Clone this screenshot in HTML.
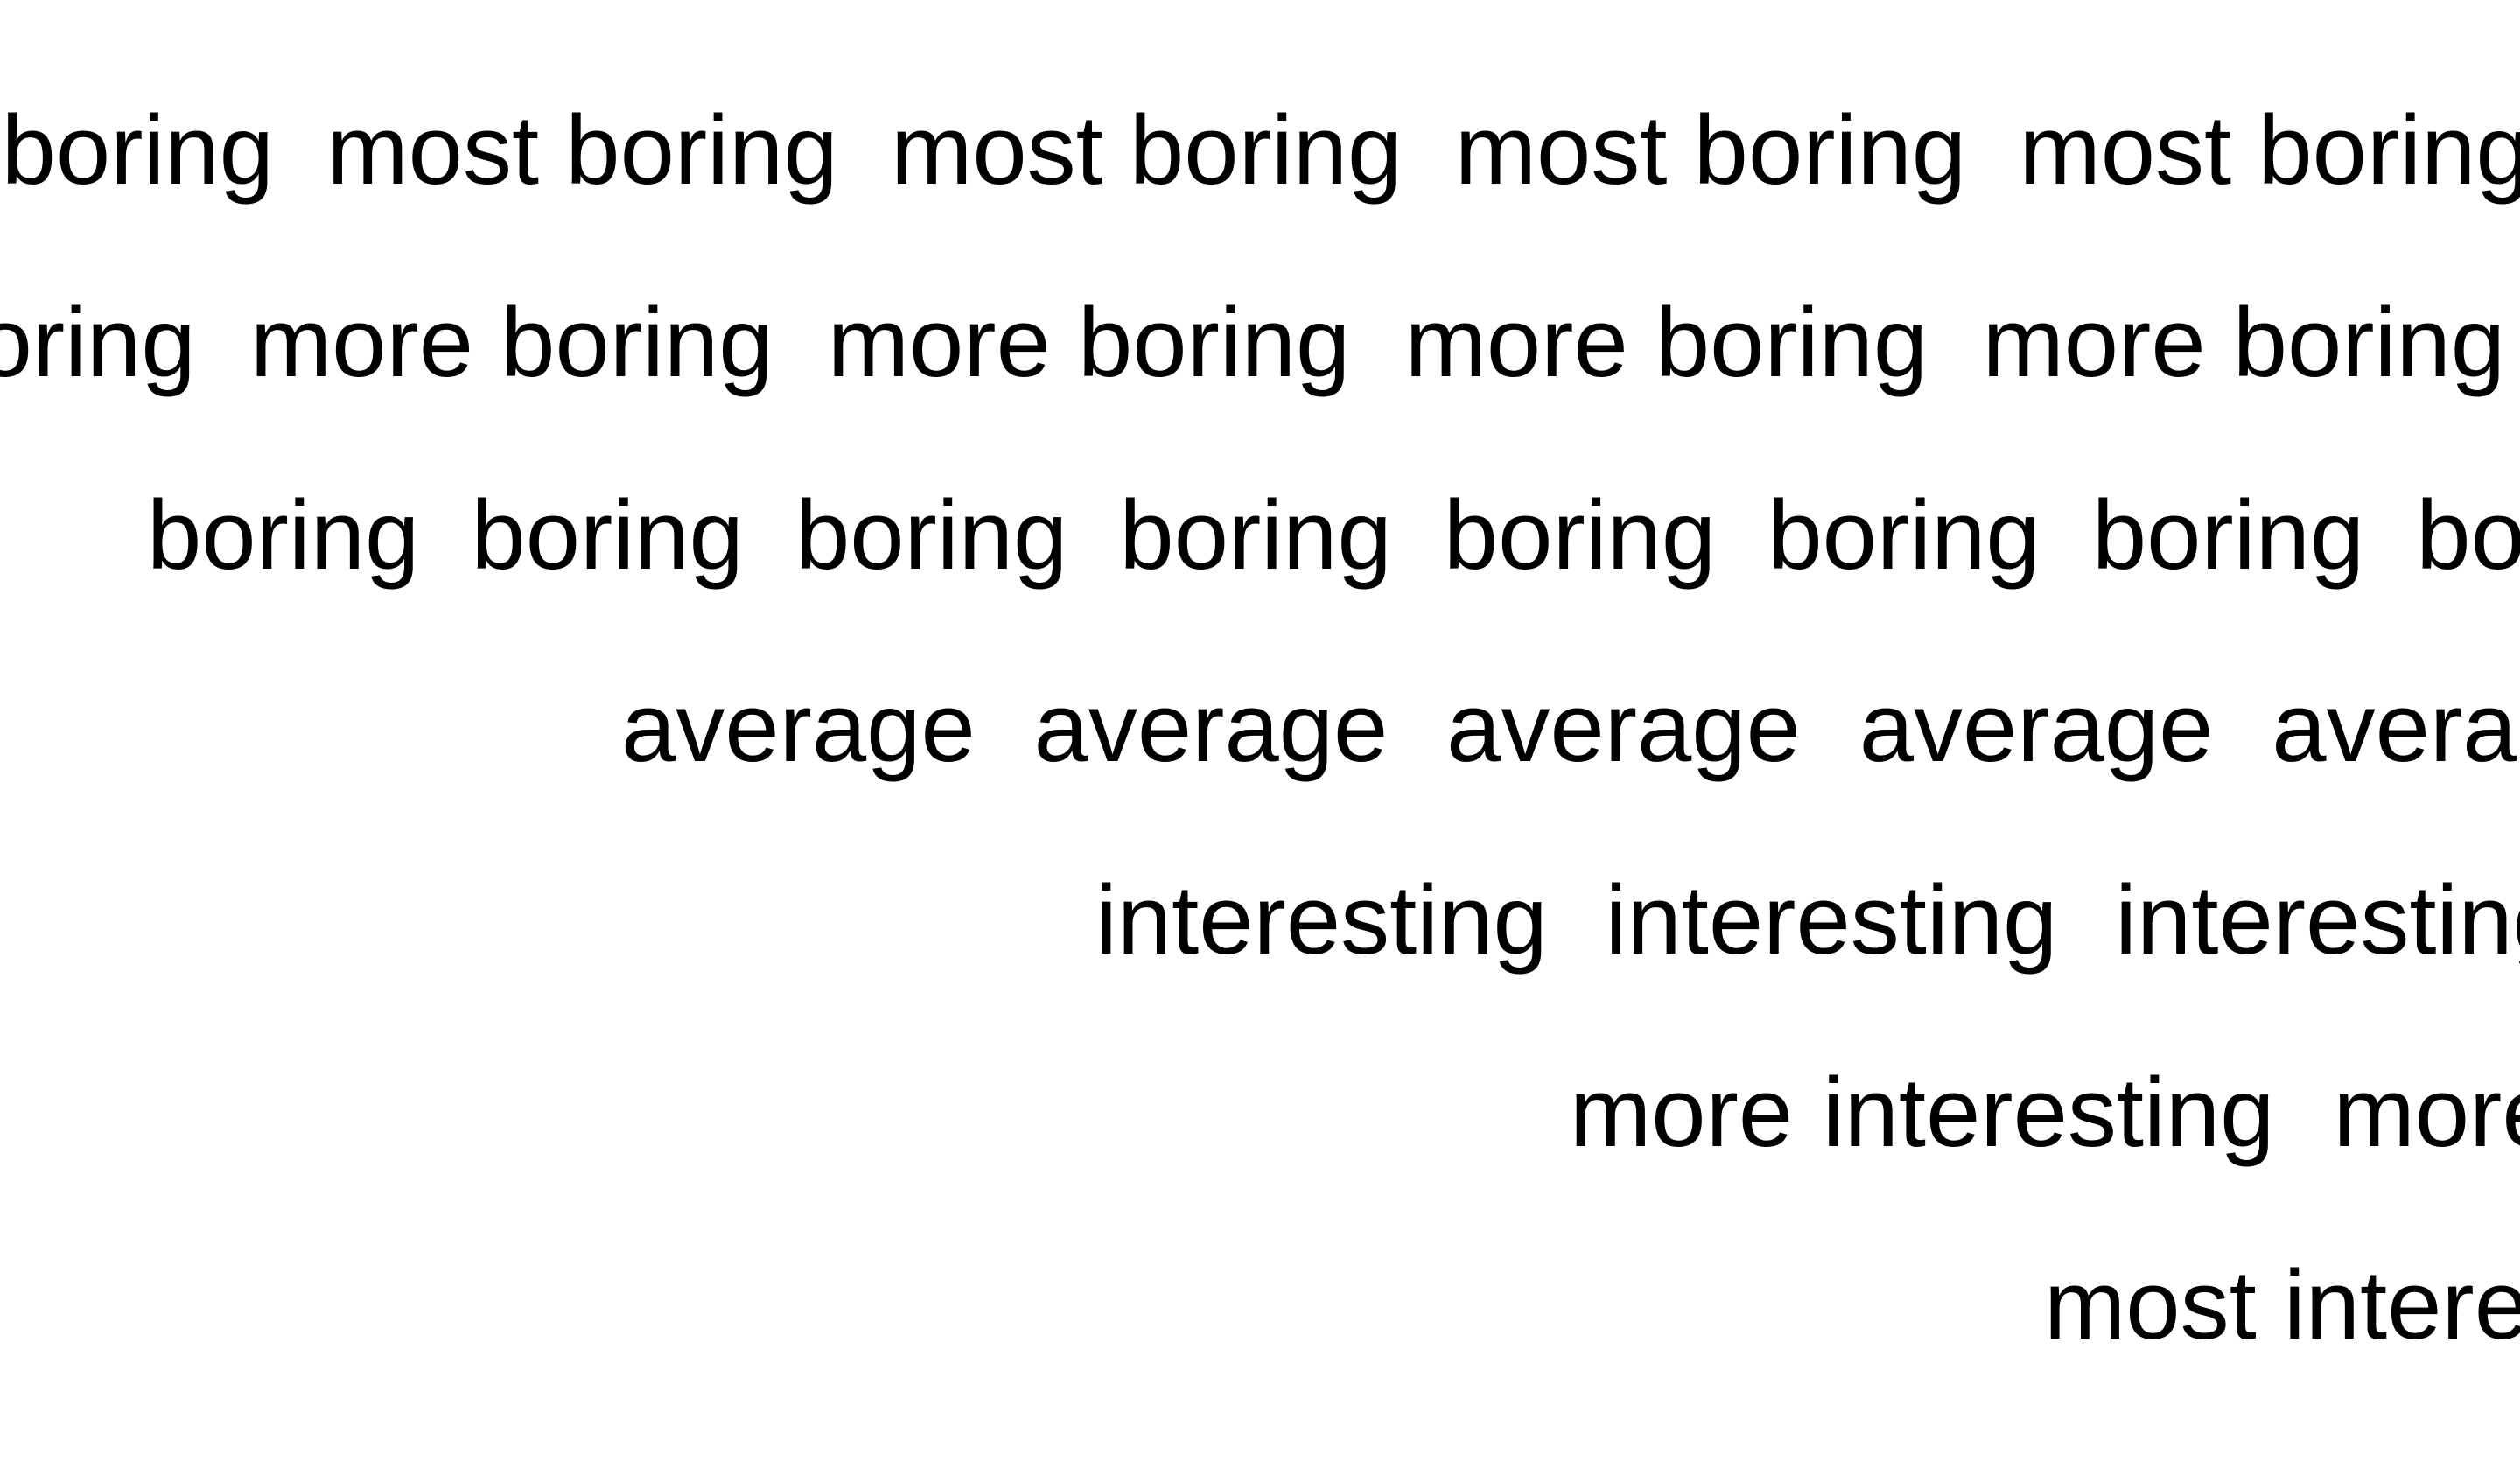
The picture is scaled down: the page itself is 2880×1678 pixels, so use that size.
<!DOCTYPE html>
<html><head><meta charset="utf-8"><style>
html,body{margin:0;padding:0;background:#fff;width:2880px;height:1678px;overflow:hidden}
svg{display:block}
text{font-family:"Liberation Sans",Arial,sans-serif;font-size:112px;fill:#000;white-space:pre}
</style></head><body>
<svg id="chart" width="2880" height="1678" viewBox="0 0 2880 1678" xmlns="http://www.w3.org/2000/svg" xml:space="preserve"></svg>
<script>
const labels = ["most boring","more boring","boring","average","interesting","more interesting","most interesting"];
const rowIndex = [0,1,2,3,4,5,6];
const svg = document.getElementById('chart');
const NS = 'http://www.w3.org/2000/svg';
const x0 = -916, xStep = 542, y0 = 210, yStep = 220;
const spacingFix = [-0.9, 0, -1.55, 2.3, 1.8, 2.4, 0];
rowIndex.forEach((r, i) => {
  const t = document.createElementNS(NS, 'text');
  t.setAttribute('x', x0 + xStep * r);
  t.setAttribute('y', y0 + yStep * r);
  
  
  t.style.wordSpacing = spacingFix[i] + 'px';
  t.textContent = Array(14).fill(labels[i]).join('  ');
  svg.appendChild(t);
});
</script>
</body></html>
